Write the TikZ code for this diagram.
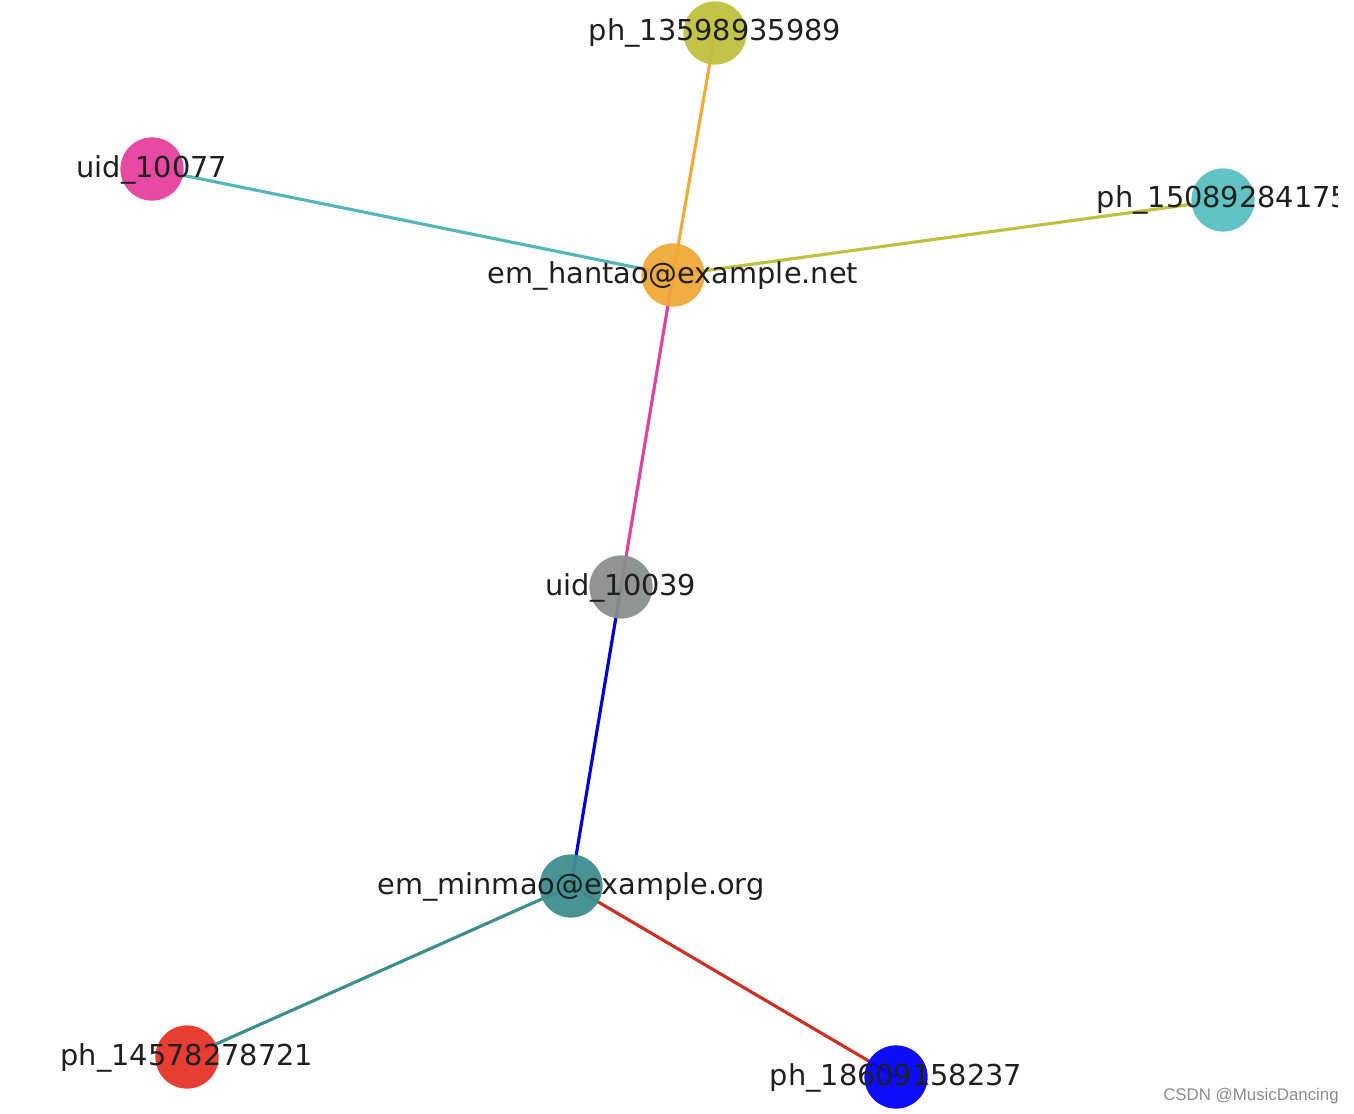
\documentclass[tikz,border=0pt]{standalone}
\usepackage{fontspec}
\setmainfont{DejaVu Sans}
\newfontfamily\wmfont{Liberation Sans}
\usepackage{tikz}
\usetikzlibrary{backgrounds}

\definecolor{cOlive}{HTML}{C0C040}
\definecolor{cPink}{HTML}{E6409E}
\definecolor{cCyan}{HTML}{58C0C0}
\definecolor{cOrange}{HTML}{F0A838}
\definecolor{cGray}{HTML}{8A8F8D}
\definecolor{cTeal}{HTML}{3E8E8E}
\definecolor{cRed}{HTML}{E63428}
\definecolor{cBlue}{HTML}{0000FA}

\tikzset{
    vtx/.style={circle, minimum size=36pt, inner sep=0pt, fill opacity=0.95},
    lbl/.style={font=\fontsize{16.4}{19}\selectfont, text=black!88, inner sep=0pt},
    edge/.style={line width=1.8pt}
}

\begin{document}
\begin{tikzpicture}[x=0.02cm, y=-0.02cm]
    \useasboundingbox (0,0) rectangle (1354,1114);

    \node[vtx, fill=cOlive] (ph1) at (715,33) {};
    \node[vtx, fill=cPink] (uid77) at (152,169) {};
    \node[vtx, fill=cCyan] (ph2) at (1223,200) {};
    \node[vtx, fill=cOrange] (hantao) at (673,275) {};
    \node[vtx, fill=cGray] (uid39) at (621,587) {};
    \node[vtx, fill=cTeal] (minmao) at (571,886) {};
    \node[vtx, fill=cRed] (ph3) at (187,1057) {};
    \node[vtx, fill=cBlue] (ph4) at (896,1077) {};

    \begin{pgfonlayer}{background}
        \draw[edge, draw=cOrange!95!yellow] (hantao.center) -- (ph1.center);
        \draw[edge, draw=cCyan!95!black] (hantao.center) -- (uid77.center);
        \draw[edge, draw=cOlive] (hantao.center) -- (ph2.center);
        \draw[edge, draw=cPink] (hantao.center) -- (uid39.center);
        \draw[edge, draw=blue!90!black] (uid39.center) -- (minmao.center);
        \draw[edge, draw=cTeal] (minmao.center) -- (ph3.center);
        \draw[edge, draw=cRed!90!black] (minmao.center) -- (ph4.center);
    \end{pgfonlayer}

    \node[lbl] (ph1-l) at (715,33) {ph\_13598935989};
    \node[lbl] (uid77-l) at (152,170) {uid\_10077};
    \begin{scope}
        \clip (0,0) rectangle (1337,1114);
        \node[lbl] (ph2-l) at (1223,200) {ph\_15089284175};
    \end{scope}
    \node[lbl] (hantao-l) at (673,276) {em\_hantao@example.net};
    \node[lbl] (uid39-l) at (621,588) {uid\_10039};
    \node[lbl] (minmao-l) at (571,887) {em\_minmao@example.org};
    \node[lbl] (ph3-l) at (187,1058) {ph\_14578278721};
    \node[lbl] (ph4-l) at (896,1078) {ph\_18609158237};

    \node[font=\wmfont\fontsize{9.6}{11}\selectfont, text=black!45, inner sep=0pt] (mark) at (1251,1096) {CSDN @MusicDancing};
\end{tikzpicture}
\end{document}
